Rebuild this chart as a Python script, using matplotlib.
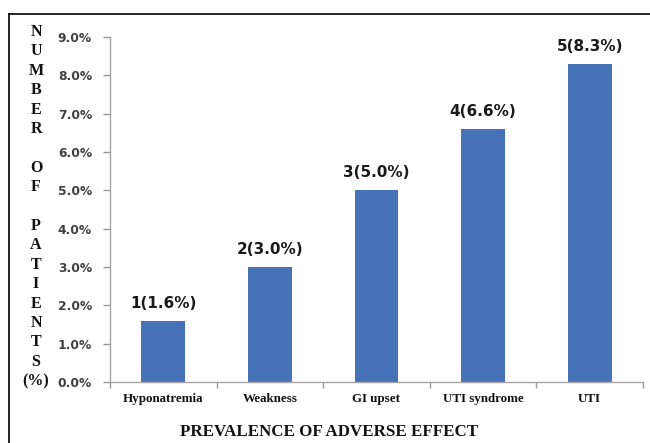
import matplotlib
matplotlib.use("Agg")
import matplotlib.pyplot as plt
from matplotlib.lines import Line2D
import numpy as np

# Adverse effects, patient counts and prevalence (%)
categories = ["Hyponatremia", "Weakness", "GI upset", "UTI syndrome", "UTI"]
counts = [1, 2, 3, 4, 5]
percents = [1.6, 3.0, 5.0, 6.6, 8.3]
yticks = [0, 1, 2, 3, 4, 5, 6, 7, 8, 9]

W, H = 650, 443
fig = plt.figure(figsize=(W / 100, H / 100), dpi=100)
fig.patch.set_facecolor("white")

ax = fig.add_axes([110 / W, (H - 382) / H, (643 - 110) / W, (382 - 37) / H])

x = np.arange(len(categories))
bar_color = "#4672B8"
bars = ax.bar(x, percents, width=0.41, color=bar_color, zorder=2)

for xi, n, p in zip(x, counts, percents):
    ax.annotate(f"{n}({p:.1f}%)", xy=(xi, p), xytext=(0, 10),
                textcoords="offset pixels", ha="center", va="bottom",
                fontsize=11, fontweight="bold", color="#1a1a1a",
                family="DejaVu Sans")

ax.set_xlim(-0.5, len(categories) - 0.5)
ax.set_ylim(0, 9)
ax.set_yticks(yticks)
ax.set_yticklabels([f"{v:.1f}%" for v in yticks], fontsize=8.8,
                   fontweight="bold", color="#404040", family="DejaVu Sans")

# category labels centered on bars, boundary ticks between categories
ax.set_xticks(x)
ax.set_xticklabels(categories, fontsize=9.4, fontweight="bold",
                   family="Liberation Serif", color="#111111")
ax.set_xticks(np.arange(len(categories) + 1) - 0.5, minor=True)
ax.tick_params(axis="x", which="major", length=0, pad=8)
ax.tick_params(axis="x", which="minor", length=4, color="#999999", width=1)
ax.tick_params(axis="y", length=5, color="#999999", width=1, pad=8)

for side in ("top", "right"):
    ax.spines[side].set_visible(False)
for side in ("left", "bottom"):
    ax.spines[side].set_color("#a6a6a6")
    ax.spines[side].set_linewidth(1.0)

# vertical stacked y-axis title
ylabel_lines = list("NUMBER") + [""] + list("OF") + [""] + list("PATIENTS") + ["(%)"]
y0, step = 32, 19.4
for i, ch in enumerate(ylabel_lines):
    if ch:
        fig.text(36 / W, 1 - (y0 + i * step) / H, ch, ha="center", va="center",
                 fontsize=11.5, fontweight="bold", family="Liberation Serif",
                 color="#111111")

fig.text(329 / W, 1 - 432 / H, "PREVALENCE OF ADVERSE EFFECT",
         ha="center", va="center", fontsize=12.2, fontweight="bold",
         family="Liberation Serif", color="#111111")

# outer frame (top and left edges)
fy = 1 - 14 / H
fx = 9 / W
fig.add_artist(Line2D([fx, 1], [fy, fy], transform=fig.transFigure,
                      color="black", linewidth=1.2))
fig.add_artist(Line2D([fx, fx], [0, fy], transform=fig.transFigure,
                      color="black", linewidth=1.2))

fig.savefig("out.png", dpi=100, facecolor="white")
